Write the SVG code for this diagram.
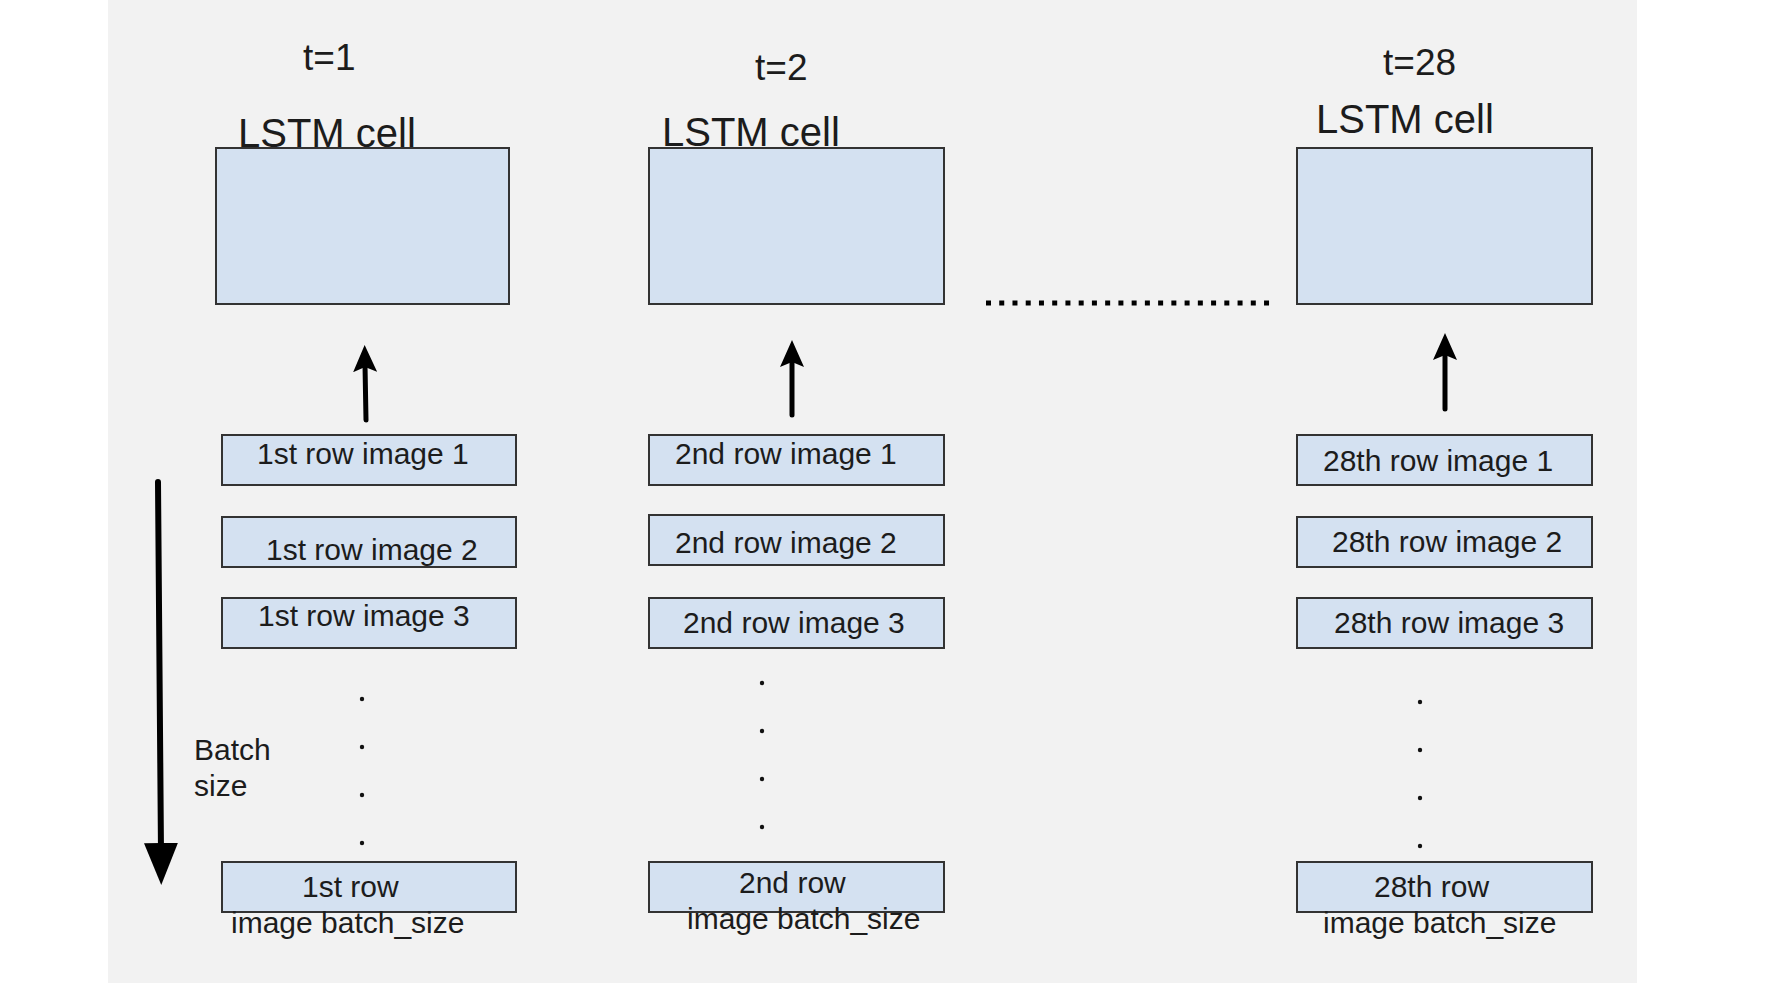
<svg xmlns="http://www.w3.org/2000/svg" width="1785" height="1000" viewBox="0 0 1785 1000">
<defs>
<style>
.bg{fill:#f2f2f2}
.box{fill:#d4e1f1;stroke:#333;stroke-width:2}
.t{font-family:"Liberation Sans",Arial,sans-serif;fill:#1c1c1c}
.big{font-size:40px}
.ts{font-size:37px}
.row{font-size:30px}
.conn{stroke:#000;fill:none;stroke-linecap:round}
.dot{fill:#111}
</style>
<marker id="ah" markerUnits="userSpaceOnUse" viewBox="0 0 27 24" markerWidth="27" markerHeight="24" refX="7" refY="12" orient="auto">
<path d="M0,0 L27,12 L0,24 L5,12 z" fill="#000"/>
</marker>
<marker id="ahBig" markerUnits="userSpaceOnUse" viewBox="0 0 42 34" markerWidth="42" markerHeight="34" refX="10" refY="17" orient="auto">
<path d="M0,0 L42,17 L0,34 z" fill="#000"/>
</marker>
</defs>
<rect class="bg" x="108" y="0" width="1529" height="983"/>

<g id="col1">
<text class="t ts" x="303" y="70">t=1</text>
<g id="lstm1"><rect class="box" x="216" y="148" width="293" height="156"/></g>
<text class="t big" x="238" y="147">LSTM cell</text>
<g id="r1i1"><rect class="box" x="222" y="435" width="294" height="50"/><text class="t row" x="257" y="464">1st row image 1</text></g>
<g id="r1i2"><rect class="box" x="222" y="517" width="294" height="50"/><text class="t row" x="266" y="560">1st row image 2</text></g>
<g id="r1i3"><rect class="box" x="222" y="598" width="294" height="50"/><text class="t row" x="258" y="626">1st row image 3</text></g>
<g id="r1ib"><rect class="box" x="222" y="862" width="294" height="50"/><text class="t row" x="302" y="897">1st row</text><text class="t row" x="231" y="933">image batch_size</text></g>
<circle class="dot" cx="362" cy="699" r="2.2"/><circle class="dot" cx="362" cy="747" r="2.2"/><circle class="dot" cx="362" cy="795" r="2.2"/><circle class="dot" cx="362" cy="843" r="2.2"/>
</g>

<g id="col2">
<text class="t ts" x="755" y="80">t=2</text>
<g id="lstm2"><rect class="box" x="649" y="148" width="295" height="156"/></g>
<text class="t big" x="662" y="146">LSTM cell</text>
<g id="r2i1"><rect class="box" x="649" y="435" width="295" height="50"/><text class="t row" x="675" y="464">2nd row image 1</text></g>
<g id="r2i2"><rect class="box" x="649" y="515" width="295" height="50"/><text class="t row" x="675" y="553">2nd row image 2</text></g>
<g id="r2i3"><rect class="box" x="649" y="598" width="295" height="50"/><text class="t row" x="683" y="633">2nd row image 3</text></g>
<g id="r2ib"><rect class="box" x="649" y="862" width="295" height="50"/><text class="t row" x="739" y="893">2nd row</text><text class="t row" x="687" y="929">image batch_size</text></g>
<circle class="dot" cx="762" cy="683" r="2.2"/><circle class="dot" cx="762" cy="731" r="2.2"/><circle class="dot" cx="762" cy="779" r="2.2"/><circle class="dot" cx="762" cy="827" r="2.2"/>
</g>

<g id="col3">
<text class="t ts" x="1383" y="75">t=28</text>
<g id="lstm3"><rect class="box" x="1297" y="148" width="295" height="156"/></g>
<text class="t big" x="1316" y="133">LSTM cell</text>
<g id="r3i1"><rect class="box" x="1297" y="435" width="295" height="50"/><text class="t row" x="1323" y="471">28th row image 1</text></g>
<g id="r3i2"><rect class="box" x="1297" y="517" width="295" height="50"/><text class="t row" x="1332" y="552">28th row image 2</text></g>
<g id="r3i3"><rect class="box" x="1297" y="598" width="295" height="50"/><text class="t row" x="1334" y="633">28th row image 3</text></g>
<g id="r3ib"><rect class="box" x="1297" y="862" width="295" height="50"/><text class="t row" x="1374" y="897">28th row</text><text class="t row" x="1323" y="933">image batch_size</text></g>
<circle class="dot" cx="1420" cy="702" r="2.2"/><circle class="dot" cx="1420" cy="750" r="2.2"/><circle class="dot" cx="1420" cy="798" r="2.2"/><circle class="dot" cx="1420" cy="846" r="2.2"/>
</g>

<g id="batch-label">
<text class="t row" x="194" y="760">Batch</text>
<text class="t row" x="194" y="796">size</text>
</g>

<g id="connectors">
<line class="conn" x1="366" y1="420" x2="365" y2="365" stroke-width="5" marker-end="url(#ah)"/>
<line class="conn" x1="792" y1="415" x2="792" y2="360" stroke-width="5" marker-end="url(#ah)"/>
<line class="conn" x1="1445" y1="409" x2="1445" y2="353" stroke-width="5" marker-end="url(#ah)"/>
<line class="conn" x1="158" y1="482" x2="161" y2="853" stroke-width="6" marker-end="url(#ahBig)"/>
<line x1="986" y1="303" x2="1272" y2="303" stroke="#000" stroke-width="5" stroke-dasharray="5 8.24"/>
</g>
</svg>
